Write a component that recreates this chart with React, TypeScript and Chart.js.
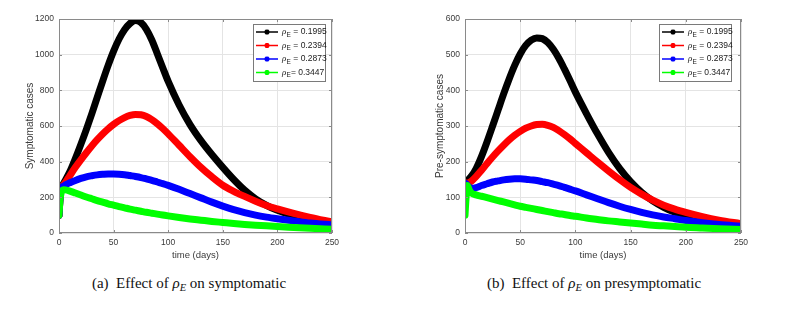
import React, { useEffect, useRef } from 'react';
import { Chart, registerables } from 'chart.js';
Chart.register(...registerables);

// ---------- data ----------
const TIME = [0, 1, 2, 4, 6, 10, 15, 20, 25, 30, 35, 40, 45, 50, 55, 60, 65, 70, 75, 80, 85, 90, 95, 100, 110, 120, 130, 140, 150, 160, 170, 180, 190, 200, 215, 230, 250];

const SYM_1995 = [100, 200, 250, 275, 298, 345, 418, 497, 580, 668, 760, 852, 940, 1020, 1088, 1140, 1175, 1192, 1180, 1142, 1082, 1005, 927, 850, 718, 608, 518, 440, 368, 300, 240, 192, 155, 127, 96, 73, 52];
const SYM_2394 = [100, 200, 250, 268, 285, 322, 368, 410, 450, 488, 523, 555, 584, 609, 630, 647, 659, 665, 663, 653, 636, 613, 586, 556, 492, 428, 368, 315, 268, 234, 205, 178, 154, 135, 110, 88, 62];
const SYM_2873 = [100, 200, 250, 262, 270, 282, 295, 306, 315, 321, 326, 329, 331, 331, 330, 327, 322, 317, 311, 303, 295, 286, 277, 267, 245, 221, 197, 173, 151, 131, 114, 100, 89, 80, 68, 56, 45];
const SYM_3447 = [100, 190, 225, 243, 242, 235, 224, 213, 202, 192, 182, 173, 164, 156, 148, 141, 134, 128, 122, 116, 111, 106, 101, 96, 87, 79, 72, 65, 59, 53, 48, 44, 40, 36, 31, 26, 21];

const PRE_1995 = [145, 146, 148, 153, 160, 180, 215, 256, 300, 345, 390, 432, 470, 502, 526, 541, 547, 545, 534, 515, 490, 460, 428, 395, 335, 278, 226, 181, 144, 114, 90, 72, 58, 48, 37, 28, 20];
const PRE_2394 = [140, 140, 140, 142, 146, 158, 176, 195, 213, 230, 246, 261, 274, 285, 294, 300, 304, 305, 302, 296, 287, 276, 264, 251, 225, 199, 174, 150, 128, 109, 92, 78, 67, 58, 46, 36, 26];
const PRE_2873 = [140, 138, 134, 128, 125, 127, 133, 138, 143, 146, 149, 151, 152, 152, 151, 149, 147, 144, 141, 137, 133, 128, 123, 118, 107, 96, 85, 75, 66, 58, 51, 45, 40, 35, 29, 24, 19];
const PRE_3447 = [50, 100, 133, 120, 112, 107, 103, 99, 95, 91, 87, 83, 79, 75, 72, 69, 66, 63, 60, 57, 54, 52, 49, 47, 42, 38, 34, 31, 28, 25, 22, 20, 18, 16, 14, 12, 10];

const RHO_VALUES = ['0.1995', '0.2394', '0.2873', '0.3447'];
const SERIES_COLORS = ['#000000', '#ff0000', '#0000ff', '#00ff00'];
const X_TICKS = [0, 50, 100, 150, 200, 250];
const SYM_TICKS = [0, 200, 400, 600, 800, 1000, 1200];
const PRE_TICKS = [0, 100, 200, 300, 400, 500, 600];

const SANS = '"Liberation Sans", Arial, Helvetica, sans-serif';
const TEXT_COLOR = '#3a3a3a';

// ---------- plugins ----------
const framePlugin = {
  id: 'frame',
  afterDatasetsDraw(chart: any) {
    const { ctx, chartArea: a, scales } = chart;
    ctx.save();
    ctx.strokeStyle = '#8a8a8a';
    ctx.lineWidth = 1;
    ctx.strokeRect(a.left + 0.5, a.top + 0.5, a.right - a.left - 1, a.bottom - a.top - 1);
    ctx.beginPath();
    const tl = 3;
    scales.x.ticks.forEach((t: any) => {
      const px = Math.round(scales.x.getPixelForValue(t.value)) + 0.5;
      ctx.moveTo(px, a.bottom); ctx.lineTo(px, a.bottom - tl);
      ctx.moveTo(px, a.top); ctx.lineTo(px, a.top + tl);
    });
    scales.y.ticks.forEach((t: any) => {
      const py = Math.round(scales.y.getPixelForValue(t.value)) + 0.5;
      ctx.moveTo(a.left, py); ctx.lineTo(a.left + tl, py);
      ctx.moveTo(a.right, py); ctx.lineTo(a.right - tl, py);
    });
    ctx.stroke();
    ctx.restore();
  },
};

function drawStar(ctx: CanvasRenderingContext2D, x: number, y: number, r: number) {
  ctx.beginPath();
  for (let k = 0; k < 4; k++) {
    const ang = (Math.PI / 4) * k;
    ctx.moveTo(x - r * Math.cos(ang), y - r * Math.sin(ang));
    ctx.lineTo(x + r * Math.cos(ang), y + r * Math.sin(ang));
  }
  ctx.stroke();
}

function makeLegendPlugin(box: { x: number; y: number; w: number; h: number }) {
  return {
    id: 'rhoLegend',
    afterDraw(chart: any) {
      const ctx: CanvasRenderingContext2D = chart.ctx;
      ctx.save();
      ctx.fillStyle = '#ffffff';
      ctx.fillRect(box.x, box.y, box.w, box.h);
      ctx.strokeStyle = '#7a7a7a';
      ctx.lineWidth = 1;
      ctx.strokeRect(box.x + 0.5, box.y + 0.5, box.w, box.h);
      const rowH = 13.5;
      chart.data.datasets.forEach((ds: any, i: number) => {
        const cy = box.y + 8 + i * rowH;
        ctx.strokeStyle = ds.borderColor;
        ctx.lineWidth = 1.5;
        ctx.beginPath();
        ctx.moveTo(box.x + 3, cy);
        ctx.lineTo(box.x + 25, cy);
        ctx.stroke();
        ctx.lineWidth = 1.6;
        drawStar(ctx, box.x + 14, cy, 2.6);
        ctx.fillStyle = '#1a1a1a';
        ctx.textBaseline = 'middle';
        ctx.textAlign = 'left';
        let x = box.x + 29;
        ctx.font = 'italic 9px "Liberation Serif", serif';
        ctx.fillText('ρ', x, cy);
        x += ctx.measureText('ρ').width + 0.3;
        ctx.font = '6.5px ' + SANS;
        ctx.fillText('E', x, cy + 3);
        x += ctx.measureText('E').width;
        ctx.font = '8.5px ' + SANS;
        const txt = (i === 3 ? '= ' : ' = ') + ds.rho;
        ctx.fillText(txt, x, cy);
      });
      ctx.restore();
    },
  };
}

type Cfg = {
  width: number;
  height: number;
  yWidth: number;
  padRight: number;
  yTitle: string;
  yTitlePad: number;
  yMax: number;
  yTicks: number[];
  series: number[][];
  legendBox: { x: number; y: number; w: number; h: number };
};

function ChartPanel({ cfg, left }: { cfg: Cfg; left: number }) {
  const ref = useRef<HTMLCanvasElement | null>(null);
  useEffect(() => {
    if (!ref.current) return;
    const datasets = cfg.series.map((vals, i) => ({
      label: 'ρE = ' + RHO_VALUES[i],
      rho: RHO_VALUES[i],
      data: TIME.map((t, k) => ({ x: t, y: vals[k] })),
      borderColor: SERIES_COLORS[i],
      backgroundColor: SERIES_COLORS[i],
      borderWidth: 7,
      pointRadius: 0,
      fill: false,
      cubicInterpolationMode: 'monotone' as const,
      borderCapStyle: 'round' as const,
      borderJoinStyle: 'round' as const,
      order: 3 - i,
    }));
    const chart = new Chart(ref.current, {
      type: 'line',
      data: { datasets: datasets as any },
      options: {
        animation: false,
        responsive: false,
        events: [],
        layout: { padding: { left: 0, top: 19, right: cfg.padRight, bottom: 0 } },
        plugins: { legend: { display: false }, tooltip: { enabled: false } },
        scales: {
          x: {
            type: 'linear',
            min: 0,
            max: 250,
            afterBuildTicks: (s: any) => { s.ticks = X_TICKS.map((v) => ({ value: v })); },
            afterFit: (s: any) => { s.height = 32; },
            grid: { color: '#e4e4e4', drawTicks: false },
            border: { display: false },
            ticks: { padding: 5, color: TEXT_COLOR, font: { family: SANS, size: 8.5 }, maxRotation: 0, callback: (v: any) => String(v) },
            title: { display: true, text: 'time (days)', color: TEXT_COLOR, font: { family: SANS, size: 9.5 }, padding: { top: 0, bottom: 4 } },
          },
          y: {
            type: 'linear',
            min: 0,
            max: cfg.yMax,
            afterBuildTicks: (s: any) => { s.ticks = cfg.yTicks.map((v) => ({ value: v })); },
            afterFit: (s: any) => { s.width = cfg.yWidth; },
            grid: { color: '#e4e4e4', drawTicks: false },
            border: { display: false },
            ticks: { padding: 5, color: TEXT_COLOR, font: { family: SANS, size: 8.5 }, callback: (v: any) => String(v) },
            title: { display: true, text: cfg.yTitle, color: TEXT_COLOR, font: { family: SANS, size: 10 }, padding: { top: cfg.yTitlePad, bottom: 0 } },
          },
        },
      },
      plugins: [framePlugin, makeLegendPlugin(cfg.legendBox)],
    });
    return () => chart.destroy();
  }, [cfg]);
  return (
    <canvas
      ref={ref}
      width={cfg.width}
      height={cfg.height}
      style={{ position: 'absolute', left, top: 0, width: cfg.width, height: cfg.height }}
    />
  );
}

const LEFT_CFG: Cfg = {
  width: 400,
  height: 265,
  yWidth: 59,
  padRight: 68,
  yTitle: 'Symptomatic cases',
  yTitlePad: 24,
  yMax: 1200,
  yTicks: SYM_TICKS,
  series: [SYM_1995, SYM_2394, SYM_2873, SYM_3447],
  legendBox: { x: 253, y: 24, w: 72, h: 57 },
};

const RIGHT_CFG: Cfg = {
  width: 394,
  height: 265,
  yWidth: 65,
  padRight: 53,
  yTitle: 'Pre-symptomatic cases',
  yTitlePad: 34,
  yMax: 600,
  yTicks: PRE_TICKS,
  series: [PRE_1995, PRE_2394, PRE_2873, PRE_3447],
  legendBox: { x: 259, y: 24, w: 72, h: 57 },
};

const captionStyle: React.CSSProperties = {
  position: 'absolute',
  top: 273,
  textAlign: 'center',
  font: '15px "Liberation Serif", "Times New Roman", serif',
  color: '#111',
  lineHeight: '20px',
  whiteSpace: 'nowrap',
};

export default function App() {
  return (
    <div style={{ position: 'absolute', left: 0, top: 0, width: 794, height: 317, background: '#fff', overflow: 'hidden' }}>
      <ChartPanel cfg={LEFT_CFG} left={0} />
      <ChartPanel cfg={RIGHT_CFG} left={400} />
      <div style={{ ...captionStyle, left: 0, width: 378 }}>
        (a)&nbsp; Effect of <i>ρ<sub style={{ fontSize: '0.7em', verticalAlign: '-0.3em' }}>E</sub></i> on symptomatic
      </div>
      <div style={{ ...captionStyle, left: 394, width: 400 }}>
        (b)&nbsp; Effect of <i>ρ<sub style={{ fontSize: '0.7em', verticalAlign: '-0.3em' }}>E</sub></i> on presymptomatic
      </div>
    </div>
  );
}
